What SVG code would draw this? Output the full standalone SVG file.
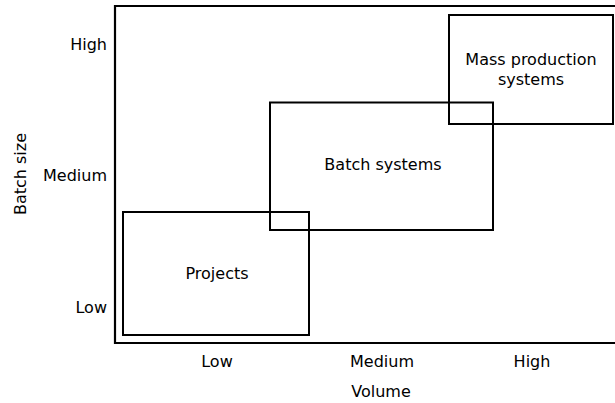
<svg xmlns="http://www.w3.org/2000/svg" width="615" height="403" viewBox="0 0 615 403">
<style>
text{font-family:"DejaVu Sans","Liberation Sans",sans-serif;font-size:16px;fill:#000}
.m{text-anchor:middle}
.e{text-anchor:end}
.box{fill:none;stroke:#000;stroke-width:2}
.ax{fill:none;stroke:#000;stroke-width:2.2}
</style>
<rect width="615" height="403" fill="#fff"/>
<g id="frame">
<path class="ax" d="M615,6 H115 V343 H615"/>
</g>
<g id="y-axis-labels">
<text class="e" x="107" y="50">High</text>
<text class="e" x="107" y="181">Medium</text>
<text class="e" x="107" y="313">Low</text>
<text class="m" transform="translate(26,174) rotate(-90)">Batch size</text>
</g>
<g id="x-axis-labels">
<text class="m" x="217" y="367">Low</text>
<text class="m" x="382" y="367">Medium</text>
<text class="m" x="532" y="367">High</text>
<text class="m" x="381" y="397">Volume</text>
</g>
<g id="projects">
<rect class="box" x="123" y="212" width="186" height="123"/>
<text class="m" x="217" y="279">Projects</text>
</g>
<g id="batch-systems">
<rect class="box" x="270" y="102.5" width="223" height="127.5"/>
<text class="m" x="383" y="170">Batch systems</text>
</g>
<g id="mass-production">
<rect class="box" x="449" y="15" width="164" height="109"/>
<text class="m" x="531" y="65">Mass production</text>
<text class="m" x="531" y="85">systems</text>
</g>
<g id="connectors"/>
</svg>
